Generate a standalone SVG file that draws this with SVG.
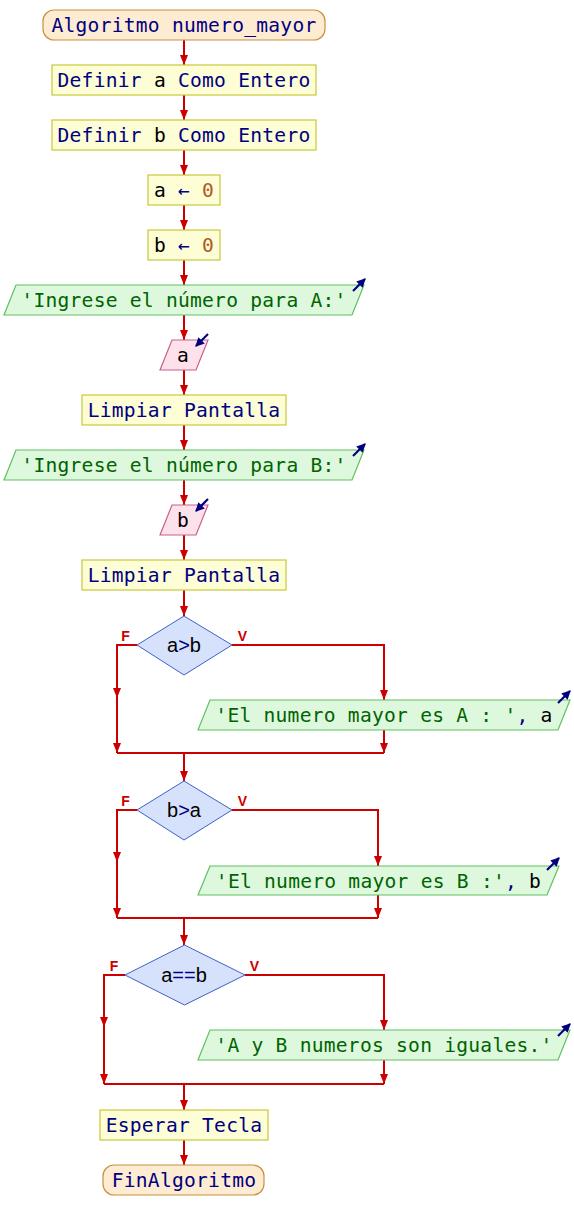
<svg xmlns="http://www.w3.org/2000/svg" width="574" height="1230" viewBox="0 0 574 1230">
<defs>
<marker id="ah" markerUnits="userSpaceOnUse" viewBox="0 0 10 8" refX="10" refY="4" markerWidth="10" markerHeight="8" orient="auto"><path d="M0,0 L10,4 L0,8 z" fill="#cc0000"/></marker>
<marker id="io" markerUnits="userSpaceOnUse" viewBox="0 0 8 8" refX="7" refY="4" markerWidth="9" markerHeight="9" orient="auto"><path d="M0,0 L8,4 L0,8 z" fill="#000080"/></marker>
</defs>
<style>
.proc{fill:#fdfdd6;stroke:#c8c83c;stroke-width:1.2}
.term{fill:#fdecd2;stroke:#c89040;stroke-width:1.2}
.out{fill:#def8de;stroke:#60c060;stroke-width:1.2}
.inp{fill:#fde2ec;stroke:#c86090;stroke-width:1.2}
.dec{fill:#d6e2fc;stroke:#4060c8;stroke-width:1}
.t{font-family:"DejaVu Sans Mono","Liberation Mono",monospace;font-size:19.6px;letter-spacing:0.25px;fill:#000080;text-anchor:middle}
.ts{font-family:"Liberation Sans",Arial,sans-serif;font-size:20px;fill:#000000;text-anchor:middle}
.v{fill:#000000}
.s{fill:#006400}
.n{fill:#b05a28}
.k{fill:#000080}
.c path{fill:none;stroke:#cc0000;stroke-width:2}
.lbl{font-family:"Liberation Sans",Arial,sans-serif;font-size:14px;font-weight:bold;fill:#cc0000;text-anchor:middle}
.ic{stroke:#000080;stroke-width:2.2;fill:none}
</style>
<g id="connectors" class="c">
<path d="M184,40 V65" marker-end="url(#ah)"/>
<path d="M184,95 V120" marker-end="url(#ah)"/>
<path d="M184,150 V175" marker-end="url(#ah)"/>
<path d="M184,205 V230" marker-end="url(#ah)"/>
<path d="M184,260 V285" marker-end="url(#ah)"/>
<path d="M184,315 V340" marker-end="url(#ah)"/>
<path d="M184,370 V395" marker-end="url(#ah)"/>
<path d="M184,425 V450" marker-end="url(#ah)"/>
<path d="M184,480 V505" marker-end="url(#ah)"/>
<path d="M184,535 V560" marker-end="url(#ah)"/>
<path d="M184,590 V616" marker-end="url(#ah)"/>
<path d="M137,645 H117 V698" marker-end="url(#ah)"/>
<path d="M117,698 V753" marker-end="url(#ah)"/>
<path d="M232,645 H384 V700" marker-end="url(#ah)"/>
<path d="M384,730 V753" marker-end="url(#ah)"/>
<path d="M117,753 H384"/>
<path d="M184,753 V781" marker-end="url(#ah)"/>
<path d="M137,810 H117 V862" marker-end="url(#ah)"/>
<path d="M117,862 V918" marker-end="url(#ah)"/>
<path d="M232,810 H378 V866" marker-end="url(#ah)"/>
<path d="M378,895 V918" marker-end="url(#ah)"/>
<path d="M117,918 H378"/>
<path d="M184,918 V945" marker-end="url(#ah)"/>
<path d="M125,975 H104 V1027" marker-end="url(#ah)"/>
<path d="M104,1027 V1084" marker-end="url(#ah)"/>
<path d="M245,975 H384 V1030" marker-end="url(#ah)"/>
<path d="M384,1060 V1084" marker-end="url(#ah)"/>
<path d="M104,1084 H384"/>
<path d="M184,1084 V1110" marker-end="url(#ah)"/>
<path d="M184,1140 V1165" marker-end="url(#ah)"/>
</g>
<g id="start">
<rect class="term" x="43" y="10" width="282" height="30" rx="11"/>
<text class="t" x="184" y="32">Algoritmo numero_mayor</text>
</g>
<g id="def_a">
<rect class="proc" x="52" y="65" width="264" height="30"/>
<text class="t" x="184" y="87">Definir <tspan class="v">a</tspan> Como Entero</text>
</g>
<g id="def_b">
<rect class="proc" x="52" y="120" width="264" height="30"/>
<text class="t" x="184" y="142">Definir <tspan class="v">b</tspan> Como Entero</text>
</g>
<g id="asig_a">
<rect class="proc" x="148" y="175" width="72" height="30"/>
<text class="t" x="184" y="197"><tspan class="v">a</tspan> ← <tspan class="n">0</tspan></text>
</g>
<g id="asig_b">
<rect class="proc" x="148" y="230" width="72" height="30"/>
<text class="t" x="184" y="252"><tspan class="v">b</tspan> ← <tspan class="n">0</tspan></text>
</g>
<g id="out_a">
<polygon class="out" points="16,285 364,285 352,315 4,315"/>
<text class="t" x="184" y="307"><tspan class="s">'Ingrese el número para A:'</tspan></text>
<path class="ic" d="M353,291 L365,279" marker-end="url(#io)"/>
</g>
<g id="in_a">
<polygon class="inp" points="172,340 208,340 196,370 160,370"/>
<text class="t" x="183" y="362"><tspan class="v">a</tspan></text>
<path class="ic" d="M208,334 L196,346" marker-end="url(#io)"/>
</g>
<g id="limpiar1">
<rect class="proc" x="82" y="395" width="204" height="30"/>
<text class="t" x="184" y="417">Limpiar Pantalla</text>
</g>
<g id="out_b">
<polygon class="out" points="16,450 364,450 352,480 4,480"/>
<text class="t" x="184" y="472"><tspan class="s">'Ingrese el número para B:'</tspan></text>
<path class="ic" d="M353,456 L365,444" marker-end="url(#io)"/>
</g>
<g id="in_b">
<polygon class="inp" points="172,505 208,505 196,535 160,535"/>
<text class="t" x="183" y="527"><tspan class="v">b</tspan></text>
<path class="ic" d="M208,499 L196,511" marker-end="url(#io)"/>
</g>
<g id="limpiar2">
<rect class="proc" x="82" y="560" width="204" height="30"/>
<text class="t" x="184" y="582">Limpiar Pantalla</text>
</g>
<g id="dec1">
<polygon class="dec" points="184,616 232,645 184,675 137,645"/>
<text class="ts" x="184" y="652">a<tspan class="k">&gt;</tspan>b</text>
<text class="lbl" x="125.5" y="641">F</text>
<text class="lbl" x="242.5" y="641">V</text>
</g>
<g id="out_res_a">
<polygon class="out" points="210,700 570,700 558,730 198,730"/>
<text class="t" x="384" y="722"><tspan class="s">'El numero mayor es A : '</tspan>, <tspan class="v">a</tspan></text>
<path class="ic" d="M558,703 L570,691" marker-end="url(#io)"/>
</g>
<g id="dec2">
<polygon class="dec" points="184,781 232,810 184,840 137,810"/>
<text class="ts" x="184" y="817">b<tspan class="k">&gt;</tspan>a</text>
<text class="lbl" x="125.5" y="806">F</text>
<text class="lbl" x="242.5" y="806">V</text>
</g>
<g id="out_res_b">
<polygon class="out" points="210,866 559,866 547,895 198,895"/>
<text class="t" x="378.5" y="888"><tspan class="s">'El numero mayor es B :'</tspan>, <tspan class="v">b</tspan></text>
<path class="ic" d="M547,870 L559,858" marker-end="url(#io)"/>
</g>
<g id="dec3">
<polygon class="dec" points="184.5,945 245,975 184.5,1005 125,975"/>
<text class="ts" x="184" y="982">a<tspan class="k">==</tspan>b</text>
<text class="lbl" x="114" y="971">F</text>
<text class="lbl" x="254.5" y="971">V</text>
</g>
<g id="out_iguales">
<polygon class="out" points="210,1030 570,1030 558,1060 198,1060"/>
<text class="t" x="384" y="1052"><tspan class="s">'A y B numeros son iguales.'</tspan></text>
<path class="ic" d="M558,1036 L570,1024" marker-end="url(#io)"/>
</g>
<g id="esperar">
<rect class="proc" x="100" y="1110" width="168" height="30"/>
<text class="t" x="184" y="1132">Esperar Tecla</text>
</g>
<g id="fin">
<rect class="term" x="103" y="1165" width="161" height="30" rx="11"/>
<text class="t" x="184" y="1187">FinAlgoritmo</text>
</g>
</svg>
